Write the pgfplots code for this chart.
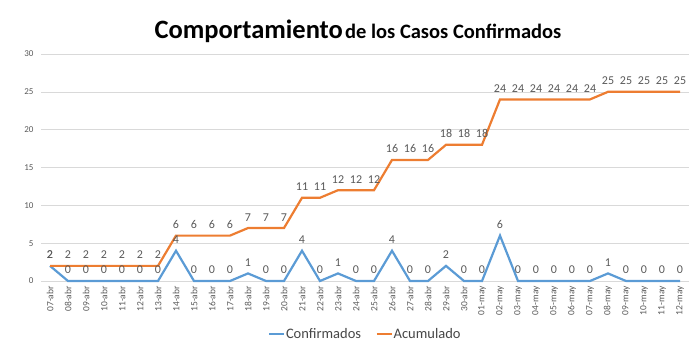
\documentclass[border=0pt]{standalone}
\usepackage{fontspec}
\setmainfont{Carlito}
\usepackage{pgfplots}
\pgfplotsset{compat=1.18}
\usepackage{pgfplotstable}
\definecolor{cblue}{HTML}{5B9BD5}
\definecolor{corange}{HTML}{ED7D31}
\definecolor{tgray}{HTML}{595959}
\definecolor{ggray}{HTML}{D9D9D9}
\pgfplotstableread{
x conf acum
0 2 2
1 0 2
2 0 2
3 0 2
4 0 2
5 0 2
6 0 2
7 4 6
8 0 6
9 0 6
10 0 6
11 1 7
12 0 7
13 0 7
14 4 11
15 0 11
16 1 12
17 0 12
18 0 12
19 4 16
20 0 16
21 0 16
22 2 18
23 0 18
24 0 18
25 6 24
26 0 24
27 0 24
28 0 24
29 0 24
30 0 24
31 1 25
32 0 25
33 0 25
34 0 25
35 0 25
}\datatable
\begin{document}
\begin{tikzpicture}[x=1pt,y=1pt]
\useasboundingbox (0,0) rectangle (700,353);
\node[font=\bfseries] at (358,322) {{\fontsize{26.5}{28}\selectfont Comportamiento} {\fontsize{20.5}{22}\selectfont de los Casos Confirmados}};
\begin{axis}[
  at={(41pt,72pt)}, anchor=south west,
  scale only axis, width=648pt, height=227pt,
  xmin=-0.5, xmax=35.5, ymin=0, ymax=30,
  axis line style={draw=none},
  ytick={0,5,...,30},
  ymajorgrids, grid style={ggray, line width=0.6pt},
  major tick length=0pt,
  xtick={0,...,35},
  xticklabels={07-abr,08-abr,09-abr,10-abr,11-abr,12-abr,13-abr,14-abr,15-abr,16-abr,17-abr,18-abr,19-abr,20-abr,21-abr,22-abr,23-abr,24-abr,25-abr,26-abr,27-abr,28-abr,29-abr,30-abr,01-may,02-may,03-may,04-may,05-may,06-may,07-may,08-may,09-may,10-may,11-may,12-may},
  x tick label style={rotate=90, anchor=east, font=\fontsize{9.5}{10}\selectfont, text=tgray, inner sep=1pt},
  y tick label style={font=\fontsize{9}{10}\selectfont, text=tgray},
  /pgf/number format/assume math mode=true,
  xticklabel shift=4pt, yticklabel shift=4pt,
  legend style={at={(0.5,-0.19)}, anchor=north, draw=none, font=\fontsize{14.5}{15}\selectfont, text=tgray!80!black, legend columns=2, /tikz/every even column/.append style={column sep=14pt}, /tikz/every odd column/.append style={column sep=0pt}, /tikz/nodes={inner xsep=1pt}},
  legend image code/.code={\draw[#1, line width=1.6pt] (0pt,0pt) -- (15pt,0pt);},
  nodes near coords,
  every node near coord/.append style={font=\fontsize{12}{12}\selectfont, text=tgray, yshift=2.5pt},
  clip=false,
]
\addplot[cblue, line width=2.2pt, no markers, point meta=explicit] table[x=x, y=conf, meta=conf] {\datatable};
\addlegendentry{Confirmados}
\addplot[corange, line width=2.2pt, no markers, point meta=explicit] table[x=x, y=acum, meta=acum] {\datatable};
\addlegendentry{Acumulado}
\end{axis}
\end{tikzpicture}
\end{document}
